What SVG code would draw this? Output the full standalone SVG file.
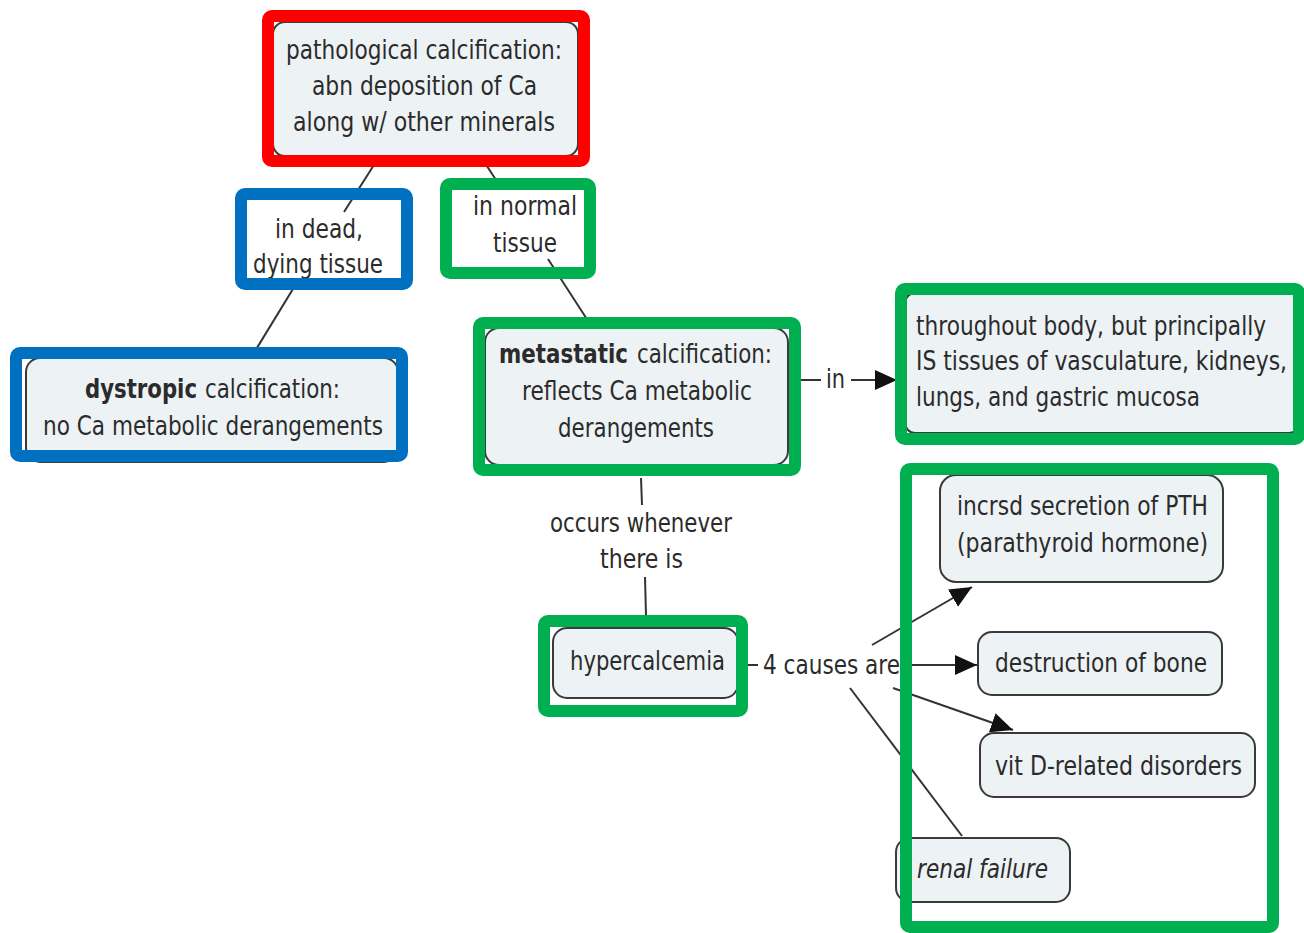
<svg xmlns="http://www.w3.org/2000/svg" width="1304" height="933" viewBox="0 0 1304 933">
<style>
.n{fill:#edf2f5;stroke:#3a3a3a;stroke-width:2}
.t{font-family:"DejaVu Sans",sans-serif;font-size:26px;fill:#2b2b2b}
.b{font-weight:bold}
.c{stroke:#333;stroke-width:2;fill:none}
.hr{fill:none;stroke:#ff0000;stroke-width:12}
.hb{fill:none;stroke:#0070c0;stroke-width:12}
.hg{fill:none;stroke:#00b050;stroke-width:12}
</style>
<defs>
<marker id="ah" markerUnits="userSpaceOnUse" markerWidth="24" markerHeight="24" viewBox="0 0 24 24" refX="22" refY="12" orient="auto">
<path d="M0,2 L22,12 L0,22 Z" fill="#111"/>
</marker>
</defs>
<rect width="1304" height="933" fill="#ffffff"/>
<g id="connectors">
<line class="c" x1="379" y1="157" x2="344" y2="212"/>
<line class="c" x1="296" y1="284" x2="252" y2="356"/>
<line class="c" x1="481" y1="157" x2="498" y2="183"/>
<line class="c" x1="548" y1="259" x2="592" y2="327"/>
<line class="c" x1="641" y1="478" x2="642" y2="505"/>
<line class="c" x1="645" y1="577" x2="646" y2="616"/>
<line class="c" x1="801" y1="380" x2="821" y2="380"/>
<line class="c" x1="851" y1="380" x2="897" y2="380" marker-end="url(#ah)"/>
<line class="c" x1="748" y1="665" x2="758" y2="665"/>
<line class="c" x1="872" y1="645" x2="972" y2="587" marker-end="url(#ah)"/>
<line class="c" x1="912" y1="665" x2="977" y2="665" marker-end="url(#ah)"/>
<line class="c" x1="893" y1="688" x2="1013" y2="730" marker-end="url(#ah)"/>
<line class="c" x1="850" y1="688" x2="962" y2="836"/>
</g>
<g id="label-dead">
<text class="t" x="275" y="238" textLength="88" lengthAdjust="spacingAndGlyphs">in dead,</text>
<text class="t" x="253" y="273" textLength="130" lengthAdjust="spacingAndGlyphs">dying tissue</text>
</g>
<g id="label-normal">
<text class="t" x="473" y="215" textLength="104" lengthAdjust="spacingAndGlyphs">in normal</text>
<text class="t" x="493" y="252" textLength="64" lengthAdjust="spacingAndGlyphs">tissue</text>
</g>
<g id="label-in">
<text class="t" x="826" y="388" textLength="19" lengthAdjust="spacingAndGlyphs">in</text>
</g>
<g id="label-occurs">
<text class="t" x="550" y="532" textLength="182" lengthAdjust="spacingAndGlyphs">occurs whenever</text>
<text class="t" x="600" y="568" textLength="83" lengthAdjust="spacingAndGlyphs">there is</text>
</g>
<g id="label-causes">
<text class="t" x="763" y="674" textLength="137" lengthAdjust="spacingAndGlyphs">4 causes are</text>
</g>
<g id="node-pathological">
<rect class="n" x="273" y="22" width="305" height="134" rx="12"/>
<text class="t" x="286" y="59" textLength="276" lengthAdjust="spacingAndGlyphs">pathological calcification:</text>
<text class="t" x="312" y="95" textLength="225" lengthAdjust="spacingAndGlyphs">abn deposition of Ca</text>
<text class="t" x="293" y="131" textLength="262" lengthAdjust="spacingAndGlyphs">along w/ other minerals</text>
</g>
<g id="node-dystropic">
<rect class="n" x="26" y="358" width="372" height="104" rx="14"/>
<text class="t b" x="85" y="398" textLength="112" lengthAdjust="spacingAndGlyphs">dystropic</text>
<text class="t" x="205" y="398" textLength="135" lengthAdjust="spacingAndGlyphs">calcification:</text>
<text class="t" x="43" y="435" textLength="340" lengthAdjust="spacingAndGlyphs">no Ca metabolic derangements</text>
</g>
<g id="node-metastatic">
<rect class="n" x="485" y="328" width="303" height="137" rx="14"/>
<text class="t b" x="499" y="363" textLength="129" lengthAdjust="spacingAndGlyphs">metastatic</text>
<text class="t" x="637" y="363" textLength="135" lengthAdjust="spacingAndGlyphs">calcification:</text>
<text class="t" x="522" y="400" textLength="230" lengthAdjust="spacingAndGlyphs">reflects Ca metabolic</text>
<text class="t" x="558" y="437" textLength="156" lengthAdjust="spacingAndGlyphs">derangements</text>
</g>
<g id="node-throughout">
<rect class="n" x="905" y="293" width="394" height="140" rx="10"/>
<text class="t" x="916" y="335" textLength="350" lengthAdjust="spacingAndGlyphs">throughout body, but principally</text>
<text class="t" x="916" y="370" textLength="371" lengthAdjust="spacingAndGlyphs">IS tissues of vasculature, kidneys,</text>
<text class="t" x="916" y="406" textLength="284" lengthAdjust="spacingAndGlyphs">lungs, and gastric mucosa</text>
</g>
<g id="node-hypercalcemia">
<rect class="n" x="553" y="628" width="185" height="70" rx="14"/>
<text class="t" x="570" y="670" textLength="155" lengthAdjust="spacingAndGlyphs">hypercalcemia</text>
</g>
<g id="node-pth">
<rect class="n" x="940" y="475" width="283" height="107" rx="16"/>
<text class="t" x="957" y="515" textLength="251" lengthAdjust="spacingAndGlyphs">incrsd secretion of PTH</text>
<text class="t" x="957" y="552" textLength="251" lengthAdjust="spacingAndGlyphs">(parathyroid hormone)</text>
</g>
<g id="node-bone">
<rect class="n" x="978" y="632" width="244" height="63" rx="14"/>
<text class="t" x="995" y="672" textLength="212" lengthAdjust="spacingAndGlyphs">destruction of bone</text>
</g>
<g id="node-vitd">
<rect class="n" x="980" y="733" width="275" height="64" rx="14"/>
<text class="t" x="995" y="775" textLength="247" lengthAdjust="spacingAndGlyphs">vit D-related disorders</text>
</g>
<g id="node-renal">
<rect class="n" x="896" y="838" width="174" height="64" rx="14"/>
<text class="t" x="917" y="878" font-style="italic" textLength="131" lengthAdjust="spacingAndGlyphs">renal failure</text>
</g>
<g id="highlights">
<rect class="hr" x="268" y="16" width="316" height="145" rx="4"/>
<rect class="hb" x="241" y="194" width="166" height="90" rx="4"/>
<rect class="hg" x="446" y="184" width="144" height="89" rx="4"/>
<rect class="hb" x="16" y="353" width="386" height="103" rx="4"/>
<rect class="hg" x="479" y="323" width="316" height="147" rx="4"/>
<rect class="hg" x="901" y="289" width="398" height="150" rx="4"/>
<rect class="hg" x="544" y="621" width="198" height="90" rx="4"/>
<rect class="hg" x="906" y="469" width="367" height="458" rx="4"/>
</g>
</svg>
